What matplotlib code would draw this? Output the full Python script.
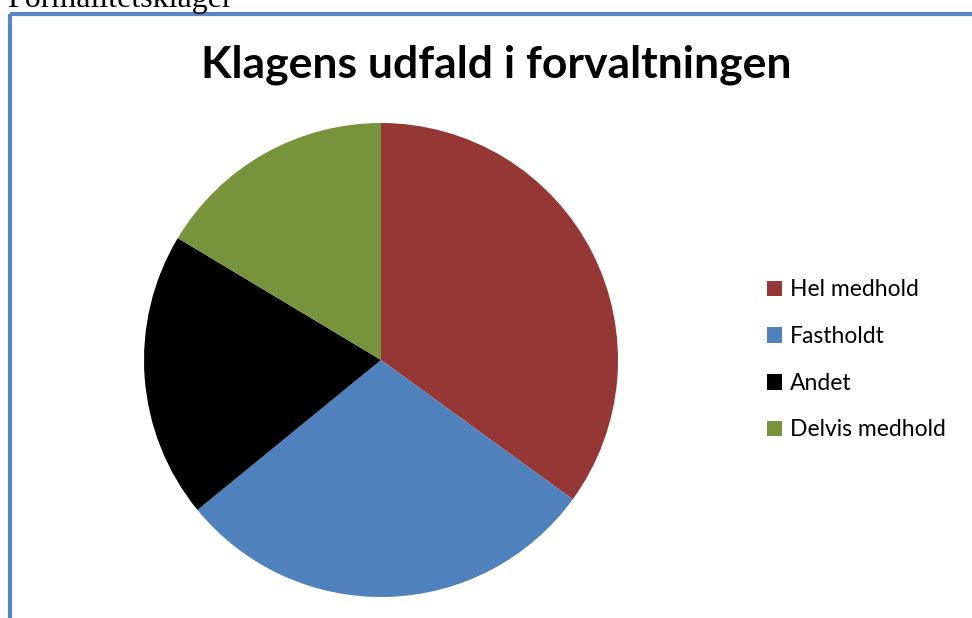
import matplotlib
matplotlib.use('Agg')
import matplotlib.pyplot as plt
from matplotlib.lines import Line2D
from matplotlib.patches import Patch

# data (share of complaints, %)
labels = ['Hel medhold', 'Fastholdt', 'Andet', 'Delvis medhold']
values = [35.0, 29.1, 19.5, 16.4]
colors = ['#953735', '#4F81BD', '#000000', '#77933C']

W, H = 972, 618
fig = plt.figure(figsize=(W / 100, H / 100), dpi=100)

# page text cut off at the top
fig.text(7 / W, 1 - 7 / H, 'Formalitetsklager', family='Liberation Serif',
         fontsize=23, va='baseline', ha='left')

# blue frame of the chart box
frame = '#5A87C1'
fig.add_artist(Line2D([10 / W, 10 / W], [0, 1 - 14 / H], color=frame, lw=3,
                      transform=fig.transFigure, solid_capstyle='butt'))
fig.add_artist(Line2D([10 / W, 1], [1 - 14 / H, 1 - 14 / H], color=frame, lw=3,
                      transform=fig.transFigure, solid_capstyle='butt'))

fig.text(496 / W, 1 - 65 / H, 'Klagens udfald i forvaltningen', family='Lato',
         fontweight='bold', fontsize=32, ha='center', va='center')

cx, cy, r = 381, 360, 237
ax = fig.add_axes([(cx - r) / W, (H - cy - r) / H, 2 * r / W, 2 * r / H])
ax.pie(values, colors=colors, startangle=90, counterclock=False, radius=1)
ax.set_xlim(-1, 1)
ax.set_ylim(-1, 1)
ax.axis('off')

handles = [Patch(facecolor=c, edgecolor='none') for c in colors]
fig.legend(handles, labels, loc='center left', bbox_to_anchor=(746 / W, 1 - 360 / H),
           frameon=False, prop={'family': 'Lato', 'size': 16.5},
           handlelength=0.68, handleheight=0.68, handletextpad=0.35, labelspacing=1.12)

fig.savefig('out.png', dpi=100)
